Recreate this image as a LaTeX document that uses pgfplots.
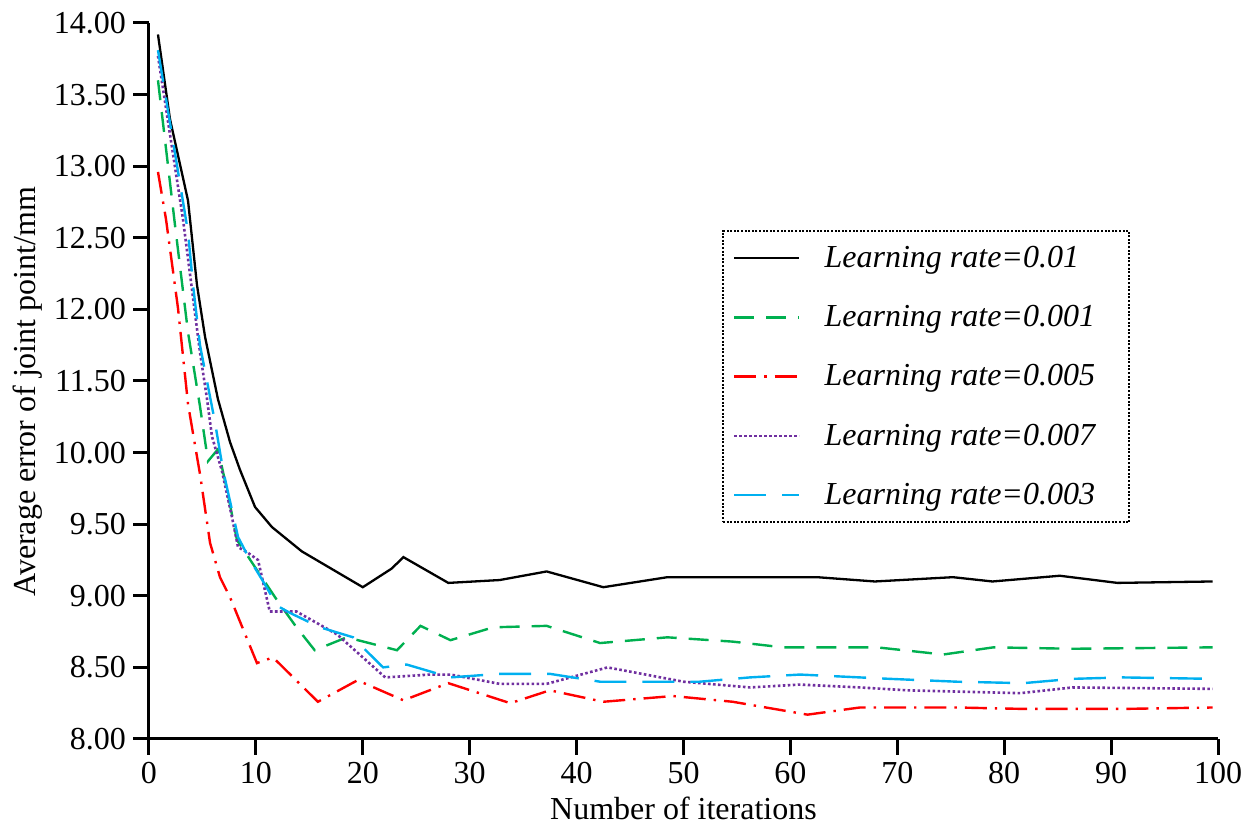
\documentclass[border=0pt]{standalone}
\usepackage{fontspec}
\setmainfont{Liberation Serif}
\usepackage{pgfplots}
\pgfplotsset{compat=1.18}
\definecolor{cgreen}{HTML}{00B050}
\definecolor{cred}{HTML}{FF0000}
\definecolor{cpurple}{HTML}{7030A0}
\definecolor{cblue}{HTML}{00B0F0}
\begin{document}
\begin{tikzpicture}[font=\fontsize{16}{19}\selectfont]
\begin{axis}[
  width=534.5pt, height=358pt, scale only axis,
  xmin=0, xmax=100, ymin=8, ymax=14,
  enlargelimits=false,
  y coord trafo/.code={\pgfmathparse{2*(min(#1,10)-8)+(max(min(#1,11.5),10)-10)/1.5+2*(max(#1,11.5)-11.5)}},
  ytick={8,8.5,9,9.5,10,11.5,12,12.5,13,13.5,14},
  yticklabels={8.00,8.50,9.00,9.50,10.00,11.50,12.00,12.50,13.00,13.50,14.00},
  xtick={0,10,...,100},
  axis lines=left,
  axis line style={-, line width=1.5pt},
  tick align=outside,
  major tick length=8pt,
  every tick/.style={black, line width=1.5pt},
  /pgf/number format/assume math mode=true,
  ticklabel style={font=\fontsize{16}{19}\selectfont},
  xlabel={Number of iterations},
  ylabel={Average error of joint point/mm},
  xlabel style={at={(axis description cs:0.5,0)}, anchor=base, yshift=-40.5pt, inner sep=0pt},
  ylabel style={at={(axis description cs:0,0.485)}, anchor=south, yshift=53pt, inner sep=0pt},
  legend style={at={(0.536,0.711)}, anchor=north west, draw=black, dash pattern=on 1pt off 0.8pt, line width=1pt, fill=white, inner xsep=5pt, inner ysep=7.5pt, row sep=17.5pt, cells={anchor=west}, nodes={inner sep=0pt}, font=\fontsize{16}{19}\selectfont, /tikz/every odd column/.append style={column sep=12pt}},
  legend image code/.code={\draw[#1] (0pt,0pt) -- (32.5pt,0pt);},
  legend cell align=left,
]
\addplot[black, solid, line width=1.15pt] coordinates {
(0.84,13.92) (1.96,13.33) (3.65,12.76) (4.49,12.17) (5.24,11.81) (6.45,11.12) (7.58,10.22) (8.51,9.88) (9.92,9.62) (11.5,9.48) (14.3,9.31) (20.0,9.06) (22.7,9.19) (23.8,9.27) (28.0,9.09) (32.8,9.11) (37.2,9.17) (42.5,9.06) (48.5,9.13) (62.5,9.13) (67.9,9.10) (75.2,9.13) (78.9,9.10) (85.2,9.14) (90.6,9.09) (99.5,9.10)};
\addplot[cgreen, line width=1.2pt, dash pattern=on 10pt off 6pt] coordinates {
(0.84,13.60) (2.43,12.59) (3.65,11.84) (4.77,10.97) (5.52,9.94) (6.45,10.07) (7.30,9.74) (8.23,9.39) (11.97,8.97) (13.8,8.78) (15.5,8.62) (18.5,8.71) (23.2,8.62) (25.4,8.79) (28.2,8.69) (32.2,8.78) (37.2,8.79) (42.2,8.67) (48.5,8.71) (54.6,8.68) (59.3,8.64) (66.5,8.64) (68.1,8.64) (74.3,8.59) (79.0,8.64) (86.4,8.63) (99.5,8.64)};
\addplot[cred, line width=1.2pt, dash pattern=on 11pt off 4pt on 1.2pt off 4pt] coordinates {
(0.84,12.96) (1.59,12.63) (2.71,12.01) (3.65,11.02) (4.21,10.28) (4.77,9.85) (5.71,9.37) (6.64,9.13) (7.58,8.99) (10.1,8.53) (11.6,8.57) (15.8,8.26) (19.5,8.41) (23.8,8.27) (28.0,8.39) (33.8,8.25) (37.5,8.34) (42.5,8.26) (49.0,8.30) (54.6,8.26) (61.6,8.17) (66.5,8.22) (75.6,8.22) (81.8,8.21) (91.1,8.21) (99.5,8.22)};
\addplot[cpurple, line width=1.3pt, dash pattern=on 1.3pt off 1.2pt] coordinates {
(0.84,13.77) (3.18,12.63) (4.77,11.70) (5.43,11.12) (5.89,10.34) (6.83,9.87) (7.76,9.55) (8.33,9.34) (9.26,9.30) (10.2,9.25) (11.3,8.89) (13.8,8.89) (17.6,8.73) (20.0,8.57) (22.1,8.43) (26.3,8.45) (28.2,8.45) (32.8,8.385) (37.2,8.385) (42.9,8.50) (50.0,8.40) (56.2,8.36) (60.9,8.38) (66.5,8.36) (70.9,8.34) (81.5,8.32) (86.4,8.36) (99.5,8.35)};
\addplot[cblue, line width=1.2pt, dash pattern=on 16pt off 8pt] coordinates {
(0.84,13.81) (3.65,12.54) (4.12,12.17) (4.77,11.75) (6.17,10.64) (6.92,9.88) (7.76,9.60) (8.33,9.41) (9.45,9.25) (10.6,9.11) (12.0,8.93) (13.2,8.88) (16.0,8.78) (19.1,8.71) (20.0,8.64) (21.9,8.50) (24.1,8.52) (28.2,8.43) (32.8,8.455) (37.5,8.455) (42.2,8.40) (51.5,8.40) (56.2,8.43) (60.9,8.45) (66.5,8.43) (69.3,8.42) (75.6,8.40) (81.8,8.39) (86.4,8.42) (91.1,8.43) (99.5,8.42)};
\legend{\textit{Learning rate=0.01},\textit{Learning rate=0.001}\hspace*{12pt},\textit{Learning rate=0.005},\textit{Learning rate=0.007},\textit{Learning rate=0.003}}
\end{axis}
\path (current axis.south west) ++(-74.5pt,-42.5pt) rectangle ++(629.5pt,412pt);
\end{tikzpicture}
\end{document}
